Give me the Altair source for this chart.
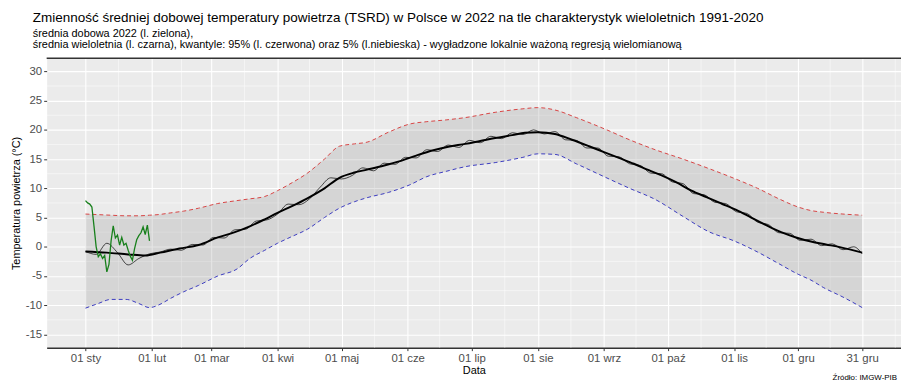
import altair as alt
import pandas as pd

FONT = "Liberation Sans"
W, H = 862, 292

TITLE = "Zmienność średniej dobowej temperatury powietrza (TSRD) w Polsce w 2022 na tle charakterystyk wieloletnich 1991-2020"
SUBTITLE = [
    "średnia dobowa 2022 (l. zielona),",
    "średnia wieloletnia (l. czarna), kwantyle: 95% (l. czerwona) oraz 5% (l.niebieska) - wygładzone lokalnie ważoną regresją wielomianową",
]
CAPTION = "Źródło: IMGW-PIB"
X_TITLE = "Data"
Y_TITLE = "Temperatura powietrza (°C)"

# x axis: day of year (0 = 1 Jan)
TICK_DAYS = [0, 31, 59, 90, 120, 151, 181, 212, 243, 273, 304, 334, 364]
TICK_LABELS = ["01 sty", "01 lut", "01 mar", "01 kwi", "01 maj", "01 cze", "01 lip",
               "01 sie", "01 wrz", "01 paź", "01 lis", "01 gru", "31 gru"]
MINOR_X = [15.5, 45, 74.5, 105, 135.5, 166, 196.5, 227.5, 258, 288.5, 319, 349, 379.5]
Y_TICKS = [-15, -10, -5, 0, 5, 10, 15, 20, 25, 30]
MINOR_Y = [-12.5, -7.5, -2.5, 2.5, 7.5, 12.5, 17.5, 22.5, 27.5]

# 2022 daily mean (green)
GREEN_DAYS = list(range(31))
GREEN_VALS = [7.9, 7.5, 7.3, 6.8, 3.5, 0.0, -1.7, -1.2, -2.0, -1.5,
              -4.3, -3.0, 1.0, 3.6, 1.5, 2.0, 0.3, 1.6, 0.3, 0.6,
              -0.6, -1.6, -2.3, -0.3, 1.2, 1.9, 2.4, 3.4, 2.1, 3.7, 1.0]

# multi-year daily mean (thin black)
THIN_DAYS = list(range(0, 361, 5)) + [364]
THIN_VALS = [-0.8, -1.3, 0.6, -1.0, -3.1, -2.0, -1.2, -0.9, -0.4, -0.6,
             0.4, 0.3, 1.6, 1.5, 2.9, 3.0, 4.4, 4.6, 5.6, 7.3,
             7.2, 8.2, 10.2, 11.8, 11.6, 12.2, 13.5, 13.0, 14.3, 14.1,
             15.3, 15.2, 16.6, 16.3, 17.4, 17.0, 18.2, 17.8, 18.9, 18.5,
             19.5, 19.2, 20.0, 19.3, 19.7, 18.3, 18.2, 16.9, 16.9, 15.5,
             15.4, 14.2, 13.9, 12.6, 12.5, 11.1, 10.8, 9.1, 8.9, 7.6,
             7.4, 6.0, 5.7, 4.2, 3.8, 2.4, 2.3, 1.1, 1.3, 0.2,
             0.5, -0.5, 0.0, -1.2]

# smoothed multi-year mean (thick black)
MEAN_DAYS = [0, 10, 20, 28, 35, 44, 53, 62, 70, 77, 84, 90, 97, 104, 112, 119, 126, 132, 140, 147,
             155, 163, 170, 178, 185, 192, 200, 206, 212, 220, 228, 236, 243, 250, 257, 264, 270, 277,
             284, 291, 298, 305, 312, 319, 326, 333, 340, 347, 354, 364]
MEAN_VALS = [-0.8, -1.0, -1.3, -1.5, -1.0, -0.3, 0.3, 1.6, 2.5, 3.5, 4.7, 5.8, 7.0, 8.3, 10.0, 11.8,
             12.7, 13.2, 13.9, 14.6, 15.6, 16.5, 17.1, 17.6, 18.1, 18.6, 19.1, 19.5, 19.6, 19.3, 18.3,
             17.2, 16.2, 15.2, 14.2, 13.1, 12.2, 11.0, 9.6, 8.5, 7.4, 6.3, 5.0, 3.7, 2.5, 1.6, 0.9, 0.4,
             -0.1, -1.0]

# smoothed quantiles
Q_DAYS = [0, 6, 12, 19, 25, 30, 34, 40, 46, 53, 62, 71, 77, 84, 90, 97, 104, 112, 119, 126, 132,
          142, 152, 160, 169, 178, 192, 205, 212, 220, 230, 243, 255, 267, 280, 292, 304, 315, 325,
          334, 340, 346, 355, 364]
Q95 = [5.6, 5.5, 5.4, 5.3, 5.3, 5.4, 5.5, 5.8, 6.1, 6.6, 7.4, 7.9, 8.2, 8.6, 9.6, 11.0, 12.6, 15.0,
       17.2, 17.6, 17.9, 19.6, 21.0, 21.4, 21.7, 22.1, 23.0, 23.6, 23.8, 23.4, 22.1, 20.2, 18.3, 16.6,
       15.0, 13.4, 11.7, 10.0, 8.2, 6.8, 6.2, 5.9, 5.6, 5.4]
Q05 = [-10.5, -9.7, -9.0, -9.0, -9.7, -10.4, -10.0, -8.8, -7.7, -6.6, -5.0, -3.8, -2.0, -0.6, 0.6,
       1.8, 3.0, 5.0, 6.6, 7.7, 8.4, 9.3, 10.6, 12.0, 12.9, 13.7, 14.4, 15.3, 15.9, 15.8, 14.2, 12.0,
       10.0, 8.1, 5.2, 2.6, 1.0, -0.9, -2.9, -4.7, -5.7, -7.0, -8.6, -10.4]

green_df = pd.DataFrame({"day": GREEN_DAYS, "t": GREEN_VALS})
thin_df = pd.DataFrame({"day": THIN_DAYS, "t": THIN_VALS})
mean_df = pd.DataFrame({"day": MEAN_DAYS, "t": MEAN_VALS})
q_df = pd.DataFrame({"day": Q_DAYS, "q95": Q95, "q05": Q05})
minx_df = pd.DataFrame({"day": MINOR_X})
miny_df = pd.DataFrame({"t": MINOR_Y})

xscale = alt.Scale(domain=[-18.2, 382.2], nice=False, zero=False)
yscale = alt.Scale(domain=[-17.25, 32.25], nice=False, zero=False)

label_expr = ("[" + ",".join(f"'{l}'" for l in TICK_LABELS) + "][indexof(["
              + ",".join(str(d) for d in TICK_DAYS) + "], datum.value)]")

xaxis = alt.Axis(values=TICK_DAYS, labelExpr=label_expr, title=X_TITLE, grid=True,
                 gridColor="white", gridWidth=1.1, domain=True, domainColor="#333333",
                 domainWidth=1.5, tickColor="#333333", tickSize=3, tickWidth=1,
                 labelColor="#4D4D4D", labelFontSize=11.5, labelFont=FONT, labelPadding=2,
                 titleFont=FONT, titleFontSize=11, titleFontWeight="normal", titleColor="black",
                 titlePadding=1, labelFlush=False, labelOverlap=False)
yaxis = alt.Axis(values=Y_TICKS, labelExpr="toString(datum.value)", title=Y_TITLE, grid=True,
                 gridColor="white", gridWidth=1.1, domain=False, tickColor="#333333", tickSize=3,
                 tickWidth=1, labelColor="#4D4D4D", labelFontSize=11.5, labelFont=FONT,
                 labelPadding=2, titleFont=FONT, titleFontSize=11, titleFontWeight="normal",
                 titleColor="black", titlePadding=4, labelFlush=False, labelOverlap=False)

X = alt.X("day:Q", scale=xscale, axis=xaxis)


def Y(field):
    return alt.Y(field, scale=yscale, axis=yaxis)


minor_v = alt.Chart(minx_df).mark_rule(color="white", strokeWidth=0.5).encode(x=X)
minor_h = alt.Chart(miny_df).mark_rule(color="white", strokeWidth=0.5).encode(y=Y("t:Q"))

ribbon = alt.Chart(q_df).mark_area(color="#7F7F7F", opacity=0.2, interpolate="monotone").encode(
    x=X, y=Y("q05:Q"), y2="q95:Q")
red = alt.Chart(q_df).mark_line(color="#D84444", strokeWidth=1, strokeDash=[4, 3],
                                interpolate="monotone").encode(x=X, y=Y("q95:Q"))
blue = alt.Chart(q_df).mark_line(color="#3C3CC0", strokeWidth=1, strokeDash=[4, 3],
                                 interpolate="monotone").encode(x=X, y=Y("q05:Q"))
thin = alt.Chart(thin_df).mark_line(color="black", strokeWidth=0.7, interpolate="monotone").encode(
    x=X, y=Y("t:Q"))
thick = alt.Chart(mean_df).mark_line(color="black", strokeWidth=2, interpolate="monotone").encode(
    x=X, y=Y("t:Q"))
green = alt.Chart(green_df).mark_line(color="#18801C", strokeWidth=1.3).encode(x=X, y=Y("t:Q"))

top_border = alt.Chart(pd.DataFrame({"a": [0]})).mark_rule(color="#333333", strokeWidth=1.5).encode(
    x=alt.value(0), x2=alt.value(W), y=alt.value(0))
caption = alt.Chart(pd.DataFrame({"txt": [CAPTION]})).mark_text(
    align="right", baseline="middle", font=FONT, fontSize=8, color="black").encode(
    text="txt:N", x=alt.value(W - 4), y=alt.value(H + 31))

chart = alt.layer(minor_v, minor_h, ribbon, thin, thick, red, blue, green, top_border, caption).properties(
    width=W, height=H,
    autosize=alt.AutoSizeParams(type="none"),
    padding={"left": 39, "top": 49, "right": 0, "bottom": 35},
    title=alt.TitleParams(text=TITLE, subtitle=SUBTITLE, anchor="start", frame="group",
                          font=FONT, fontSize=13.6, fontWeight="normal", color="black",
                          subtitleFont=FONT, subtitleFontSize=11, subtitleColor="black",
                          subtitleLineHeight=11, subtitlePadding=3, offset=8, dx=-14),
).configure_view(fill="#EBEBEB", stroke="transparent")

chart.save("out.html", embed_options={"renderer": "svg", "actions": False})
